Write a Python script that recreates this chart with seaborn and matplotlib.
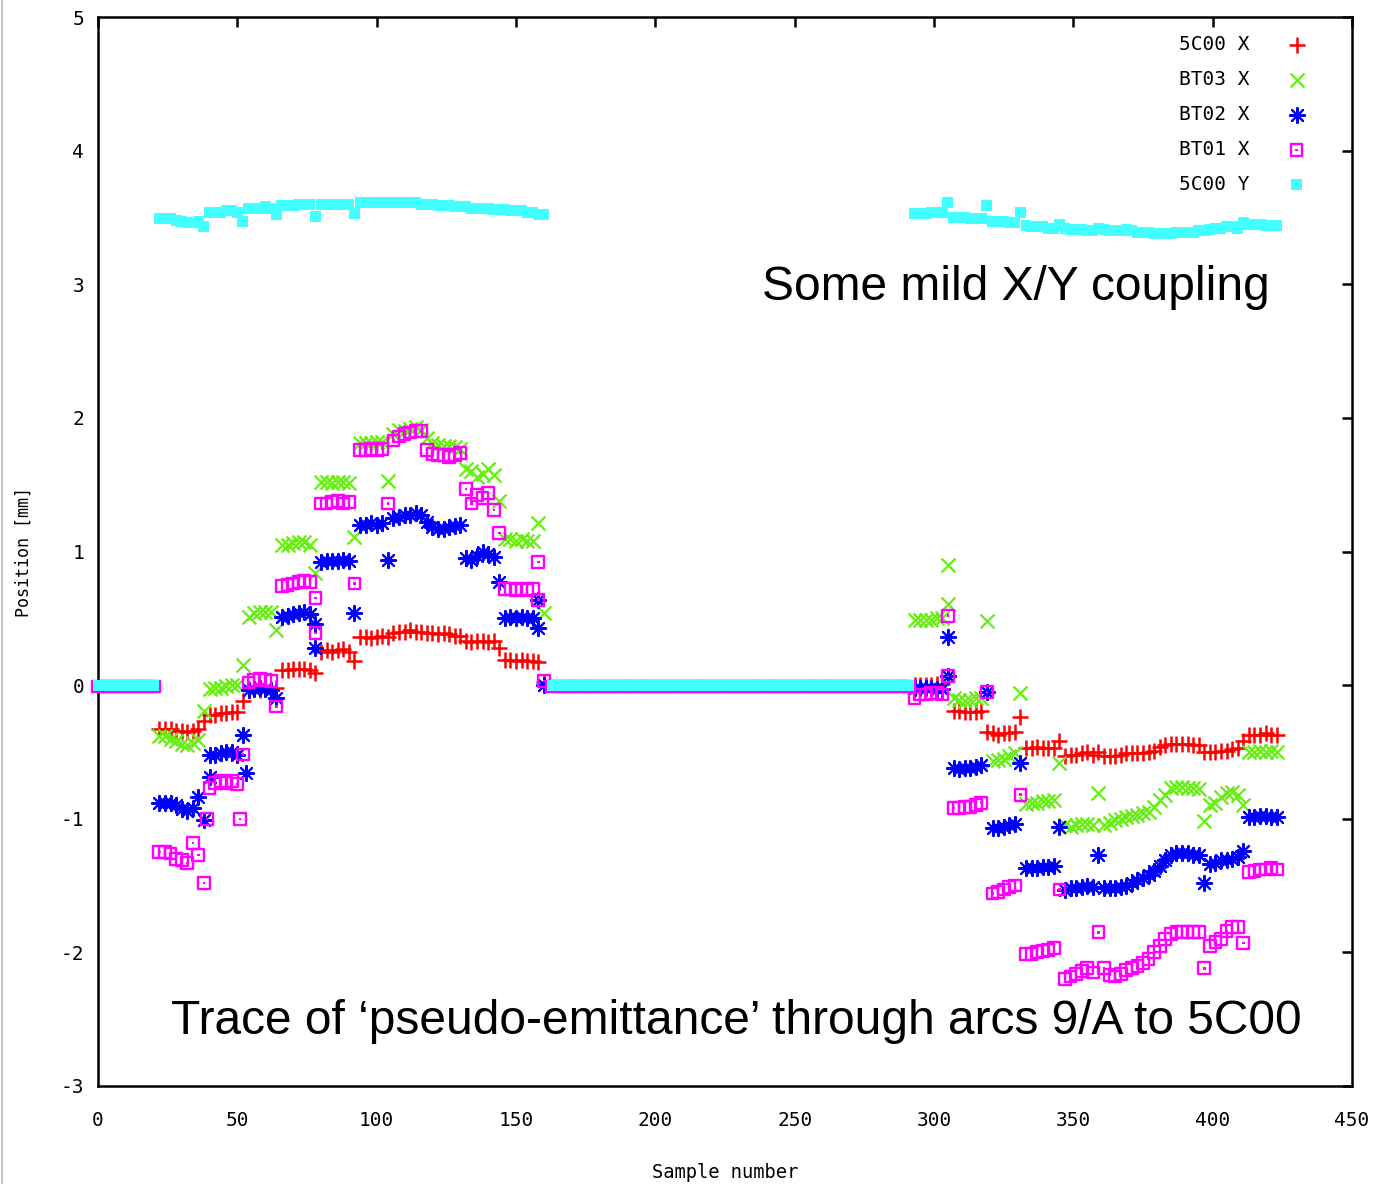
import numpy as np
import pandas as pd
import matplotlib
matplotlib.use("Agg")
import matplotlib.pyplot as plt
from matplotlib.lines import Line2D
import seaborn as sns

# ---------------- data ----------------
# sample numbers (every 2nd sample of each block)
zero1_x = np.arange(0, 22, 2)      # 0 .. 20   (no beam)
seg1_x = np.arange(22, 161, 2)     # 22 .. 160 (70 samples)
zero2_x = np.arange(163, 292, 2)   # 163 .. 291 (no beam)
seg2_x = np.arange(293, 424, 2)    # 293 .. 423 (66 samples)

# ---- block 1 readings [mm]
red1 = [-0.33, -0.33, -0.33, -0.34, -0.34, -0.35, -0.34, -0.33,
        -0.27,
        -0.22, -0.22, -0.21, -0.21, -0.20, -0.20,
        -0.12,
        -0.04, -0.03, -0.04, -0.03, -0.04,
        -0.02,
        0.11, 0.11, 0.12, 0.12, 0.12, 0.11,
        0.09,
        0.25, 0.26, 0.25, 0.26, 0.27, 0.25,
        0.18,
        0.36, 0.36, 0.35, 0.36, 0.37,
        0.36,
        0.39, 0.40, 0.40, 0.41, 0.40, 0.40,
        0.39, 0.39, 0.38, 0.39, 0.38, 0.37, 0.37,
        0.33, 0.32, 0.33, 0.33, 0.32, 0.33,
        0.28,
        0.19, 0.19, 0.18, 0.19, 0.18, 0.18,
        0.17,
        0.02]
green1 = [-0.38, -0.38, -0.40, -0.42, -0.44, -0.45, -0.43, -0.41,
          -0.19,
          -0.03, -0.02, -0.02, -0.01, 0.00, 0.00,
          0.15,
          0.51, 0.54, 0.55, 0.55, 0.55,
          0.41,
          1.05, 1.05, 1.06, 1.07, 1.07, 1.05,
          0.84,
          1.52, 1.52, 1.51, 1.52, 1.52, 1.51,
          1.11,
          1.81, 1.81, 1.81, 1.82, 1.82,
          1.53,
          1.88, 1.91, 1.90, 1.92, 1.93, 1.91,
          1.85, 1.81, 1.80, 1.79, 1.79, 1.78, 1.77,
          1.62, 1.60, 1.56, 1.58, 1.62, 1.57,
          1.38,
          1.09, 1.09, 1.08, 1.09, 1.08, 1.08,
          1.21,
          0.54]
blue1 = [-0.88, -0.88, -0.88, -0.90, -0.93, -0.94, -0.92, -0.84,
         -1.01,
         -0.52, -0.52, -0.51, -0.50, -0.50, -0.52,
         -0.37,
         -0.04, -0.03, -0.02, -0.03, -0.04,
         -0.10,
         0.51, 0.52, 0.53, 0.54, 0.55, 0.53,
         0.28,
         0.92, 0.93, 0.93, 0.93, 0.94, 0.93,
         0.54,
         1.20, 1.20, 1.21, 1.20, 1.21,
         0.94,
         1.25, 1.26, 1.27, 1.27, 1.29, 1.27,
         1.22, 1.18, 1.17, 1.17, 1.18, 1.19, 1.20,
         0.95, 0.94, 0.97, 1.00, 0.98, 0.96,
         0.77,
         0.50, 0.51, 0.50, 0.51, 0.50, 0.50,
         0.64,
         0.00]
mag1 = [-1.25, -1.25, -1.26, -1.30, -1.31, -1.33, -1.18, -1.27,
        -1.48,
        -0.77, -0.73, -0.72, -0.73, -0.72, -0.74,
        -0.52,
        0.02, 0.04, 0.05, 0.04, 0.03,
        -0.16,
        0.74, 0.75, 0.76, 0.77, 0.78, 0.77,
        0.39,
        1.36, 1.36, 1.37, 1.38, 1.36, 1.37,
        0.76,
        1.76, 1.76, 1.77, 1.76, 1.77,
        1.36,
        1.83, 1.86, 1.88, 1.89, 1.90, 1.90,
        1.76, 1.73, 1.72, 1.72, 1.71, 1.72, 1.74,
        1.47, 1.36, 1.42, 1.40, 1.44, 1.31,
        1.14,
        0.72, 0.72, 0.71, 0.72, 0.71, 0.72,
        0.92,
        0.03]
cyan1 = [3.49, 3.49, 3.49, 3.48, 3.47, 3.46, 3.46, 3.47,
         3.43,
         3.54, 3.54, 3.54, 3.55, 3.55, 3.54,
         3.47,
         3.57, 3.57, 3.57, 3.58, 3.57,
         3.52,
         3.59, 3.59, 3.59, 3.60, 3.60, 3.60,
         3.51,
         3.60, 3.60, 3.60, 3.60, 3.60, 3.60,
         3.53,
         3.61, 3.61, 3.61, 3.61, 3.61,
         3.61,
         3.61, 3.61, 3.61, 3.61, 3.61, 3.60,
         3.60, 3.60, 3.59, 3.59, 3.59, 3.58, 3.58,
         3.58, 3.57, 3.57, 3.57, 3.57, 3.56,
         3.56,
         3.56, 3.55, 3.55, 3.55, 3.54, 3.54,
         3.52,
         3.52]

# ---- block 2 readings [mm]
red2 = [0.00, 0.00, 0.00, 0.00, 0.01, 0.01,
        0.07,
        -0.19, -0.19, -0.20, -0.20, -0.20, -0.19,
        -0.35,
        -0.36, -0.37, -0.36, -0.36, -0.35,
        -0.24,
        -0.47, -0.47, -0.46, -0.47, -0.47, -0.47,
        -0.42,
        -0.53, -0.52, -0.52, -0.51, -0.50, -0.52,
        -0.50,
        -0.53, -0.53, -0.53, -0.52, -0.51, -0.51, -0.51, -0.51, -0.50, -0.49,
        -0.46, -0.45,
        -0.44, -0.44, -0.44, -0.44, -0.45, -0.45,
        -0.50,
        -0.50, -0.50, -0.49, -0.49, -0.48, -0.47,
        -0.42,
        -0.37, -0.37, -0.37, -0.36, -0.37, -0.37]
green2 = [0.49, 0.49, 0.49, 0.49, 0.50, 0.50,
          0.90,
          -0.10, -0.11, -0.12, -0.11, -0.10, -0.10,
          0.48,
          -0.57, -0.56, -0.55, -0.53, -0.51,
          -0.06,
          -0.89, -0.88, -0.88, -0.87, -0.87, -0.86,
          -0.58,
          -1.05, -1.06, -1.05, -1.04, -1.04, -1.05,
          -0.81,
          -1.05, -1.03, -1.01, -1.00, -0.99, -0.98, -0.97, -0.96, -0.95, -0.91,
          -0.86, -0.82,
          -0.77, -0.76, -0.76, -0.77, -0.77, -0.78,
          -1.02,
          -0.90, -0.88, -0.84, -0.81, -0.80, -0.82,
          -0.90,
          -0.50, -0.50, -0.49, -0.50, -0.49, -0.50]
blue2 = [-0.02, -0.02, -0.02, -0.02, -0.03, -0.03,
         0.36,
         -0.62, -0.63, -0.62, -0.62, -0.61, -0.60,
         -0.05,
         -1.07, -1.07, -1.06, -1.05, -1.04,
         -0.58,
         -1.37, -1.37, -1.37, -1.36, -1.36, -1.35,
         -1.06,
         -1.53, -1.52, -1.52, -1.51, -1.50, -1.51,
         -1.27,
         -1.52, -1.52, -1.52, -1.51, -1.50, -1.48, -1.46, -1.44, -1.42, -1.39,
         -1.35, -1.31,
         -1.27, -1.26, -1.26, -1.26, -1.27, -1.27,
         -1.48,
         -1.34, -1.33, -1.31, -1.31, -1.30, -1.29,
         -1.24,
         -0.99, -0.99, -0.98, -0.98, -0.99, -0.99]
mag2 = [-0.10, -0.07, -0.07, -0.06, -0.06, -0.07,
        0.52,
        -0.92, -0.92, -0.91, -0.91, -0.90, -0.88,
        -0.05,
        -1.56, -1.55, -1.53, -1.51, -1.50,
        -0.82,
        -2.01, -2.01, -2.00, -1.99, -1.98, -1.97,
        -1.53,
        -2.20, -2.18, -2.16, -2.14, -2.12, -2.15,
        -1.85,
        -2.12, -2.17, -2.18, -2.16, -2.13, -2.12, -2.10, -2.08, -2.05, -2.00,
        -1.95, -1.90,
        -1.86, -1.85, -1.85, -1.85, -1.85, -1.85,
        -2.12,
        -1.95, -1.92, -1.90, -1.84, -1.81, -1.81,
        -1.93,
        -1.40, -1.39, -1.38, -1.38, -1.37, -1.38]
cyan2 = [3.53, 3.53, 3.53, 3.54, 3.54, 3.54,
         3.61,
         3.50, 3.50, 3.50, 3.49, 3.49, 3.49,
         3.59,
         3.47, 3.47, 3.47, 3.46, 3.46,
         3.54,
         3.44, 3.43, 3.43, 3.43, 3.42, 3.42,
         3.45,
         3.42, 3.41, 3.41, 3.41, 3.40, 3.40,
         3.42,
         3.41, 3.40, 3.40, 3.40, 3.41, 3.40, 3.39, 3.39, 3.39, 3.38,
         3.38, 3.38,
         3.38, 3.39, 3.39, 3.39, 3.39, 3.40,
         3.40,
         3.41, 3.42, 3.42, 3.43, 3.43, 3.42,
         3.46,
         3.45, 3.45, 3.45, 3.44, 3.44, 3.44]

# second readings seen at a few transition samples
blue_extra_x = [40, 53, 78, 158, 305]
blue_extra_y = [-0.69, -0.66, 0.46, 0.43, 0.07]
mag_extra_x = [39, 51, 78, 158, 305]
mag_extra_y = [-1.00, -1.00, 0.65, 0.64, 0.07]
green_extra_x = [305]
green_extra_y = [0.61]

# no-beam blocks: only BT01 X and 5C00 Y are visible there
mag_zero1 = [-0.01] * len(zero1_x)
mag_zero2 = [-0.01] * len(zero2_x)
cyan_zero1 = [0.0] * len(zero1_x)
cyan_zero2 = [0.0] * len(zero2_x)

series_names = ["5C00 X", "BT03 X", "BT02 X", "BT01 X", "5C00 Y"]
colors = ["#ff0000", "#66ee11", "#0000ff", "#ff00ff", "#44ffff"]

frames = []
def add(name, xs, ys):
    frames.append(pd.DataFrame({"sample": xs, "pos": ys, "series": name}))

add("5C00 X", seg1_x, red1); add("5C00 X", seg2_x, red2)
add("BT03 X", seg1_x, green1); add("BT03 X", seg2_x, green2)
add("BT03 X", green_extra_x, green_extra_y)
add("BT02 X", seg1_x, blue1); add("BT02 X", seg2_x, blue2)
add("BT02 X", blue_extra_x, blue_extra_y)
add("BT01 X", zero1_x, mag_zero1); add("BT01 X", seg1_x, mag1)
add("BT01 X", zero2_x, mag_zero2); add("BT01 X", seg2_x, mag2)
add("BT01 X", mag_extra_x, mag_extra_y)
add("5C00 Y", zero1_x, cyan_zero1); add("5C00 Y", seg1_x, cyan1)
add("5C00 Y", zero2_x, cyan_zero2); add("5C00 Y", seg2_x, cyan2)
df = pd.concat(frames, ignore_index=True)

# ---------------- plot ----------------
sns.set_theme(style="white")
plt.rcParams["font.family"] = ["DejaVu Sans Mono", "DejaVu Sans"]
plt.rcParams["axes.unicode_minus"] = False
plt.rcParams["text.color"] = "black"
plt.rcParams["axes.labelcolor"] = "black"

fig = plt.figure(figsize=(13.81, 11.84), dpi=100)
ax = fig.add_axes([0.071, 0.0828, 0.908, 0.9028])

def sub(name):
    return df[df["series"] == name]

h_red = sns.scatterplot(data=sub("5C00 X"), x="sample", y="pos", marker="+",
                        color=colors[0], s=125, linewidth=1.8, ax=ax,
                        legend=False).collections[-1]
h_green = sns.scatterplot(data=sub("BT03 X"), x="sample", y="pos", marker="x",
                          color=colors[1], s=100, linewidth=1.6, ax=ax,
                          legend=False).collections[-1]
h_blue = sns.scatterplot(data=sub("BT02 X"), x="sample", y="pos", marker=(8, 2, 0),
                         color=colors[2], s=120, linewidth=1.5, ax=ax,
                         legend=False).collections[-1]
h_mag = sns.scatterplot(data=sub("BT01 X"), x="sample", y="pos", marker="s",
                        facecolor="none", edgecolor=colors[3], color=colors[3],
                        s=72, linewidth=1.7, ax=ax, legend=False).collections[-1]
h_magdot = sns.scatterplot(data=sub("BT01 X"), x="sample", y="pos", marker="s",
                           color=colors[3], edgecolor="none", s=3, linewidth=0,
                           ax=ax, legend=False).collections[-1]
h_cyan = sns.scatterplot(data=sub("5C00 Y"), x="sample", y="pos", marker="s",
                         color=colors[4], edgecolor="none", s=62, linewidth=0,
                         ax=ax, legend=False).collections[-1]
h_cyan.set_clip_on(False)
h_mag.set_clip_on(False)

ax.set_xlim(0, 450)
ax.set_ylim(-3, 5)
ax.set_xticks(np.arange(0, 451, 50))
ax.set_yticks(np.arange(-3, 6, 1))
ax.tick_params(direction="in", length=7, width=1.8, top=True, right=True,
               labelsize=14, colors="black")
ax.tick_params(axis="x", pad=18)
ax.tick_params(axis="y", pad=10)
for sp in ax.spines.values():
    sp.set_linewidth(1.8)
    sp.set_color("black")
    sp.set_zorder(0.5)

ax.set_xlabel("Sample number", fontsize=13.5, labelpad=24)
ax.set_ylabel("Position [mm]", fontsize=12, labelpad=20)

leg = ax.legend([h_red, h_green, h_blue, (h_mag, h_magdot), h_cyan], series_names,
                loc="upper right", bbox_to_anchor=(0.9713, 0.983), frameon=False,
                markerfirst=False, scatterpoints=1, fontsize=14, borderpad=0,
                borderaxespad=0, labelspacing=0.82, handletextpad=1.4, handlelength=2.0)

ax.text(0.9346, 0.7474, "Some mild X/Y coupling", transform=ax.transAxes,
        ha="right", va="center", fontsize=34.5, color="black",
        family=["Liberation Sans", "DejaVu Sans"])
ax.text(0.960, 0.0599, "Trace of \u2018pseudo-emittance\u2019 through arcs 9/A to 5C00",
        transform=ax.transAxes, ha="right", va="center", fontsize=34.5, color="black",
        family=["Liberation Sans", "DejaVu Sans"])

fig.add_artist(Line2D([0.0015, 0.0015], [0.0, 1.0], color="#b8b8b8", linewidth=1.2))

fig.savefig("out.png", dpi=100)
